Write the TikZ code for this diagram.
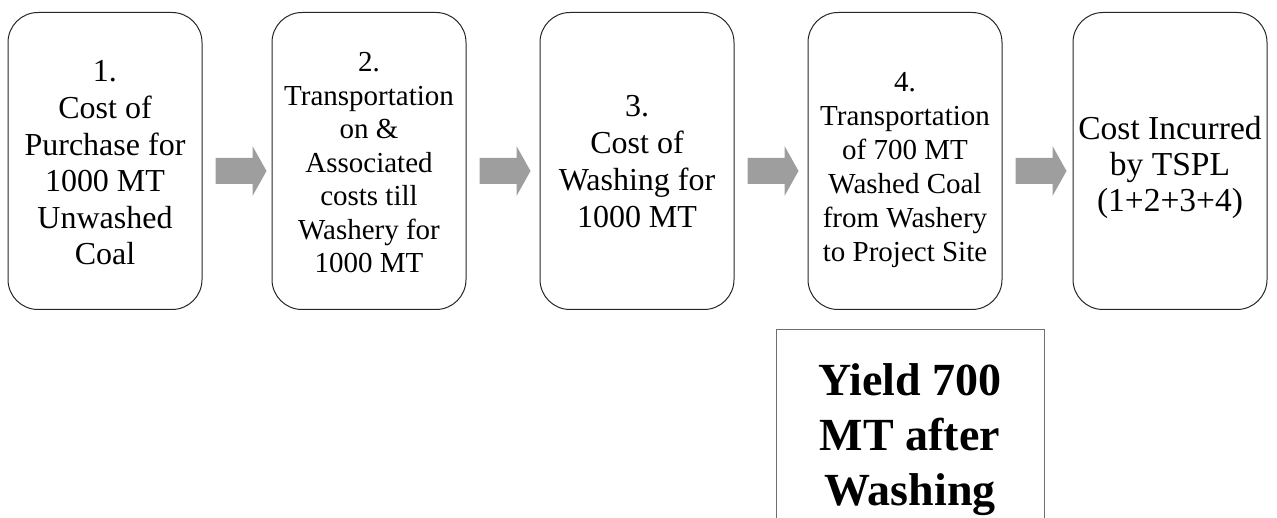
\documentclass[tikz,border=0pt]{standalone}
\usepackage{fontspec}
\setmainfont{Liberation Serif}
\usepackage{xcolor}
\usetikzlibrary{shapes,arrows,positioning,calc}
\definecolor{arrowgray}{RGB}{158,158,158}
\definecolor{framegray}{RGB}{110,110,110}

\begin{document}
\begin{tikzpicture}[x=1pt,y=1pt,
	costbox/.style={draw=black!85, line width=1pt, rounded corners=30pt,
		minimum width=194pt, minimum height=297pt, inner sep=0pt},
	steptext/.style={align=center, inner sep=0pt},
	yieldbox/.style={draw=framegray, line width=1pt, minimum width=268pt,
		minimum height=220pt, align=center, inner sep=0pt}]
				\useasboundingbox (0,0) rectangle (1277,517);
				
				% Draw the five cost steps
				\node[costbox] (s1) at (105,356) {};
				\node[costbox] (s2) at (369,356) {};
				\node[costbox] (s3) at (637,356) {};
				\node[costbox] (s4) at (905,356) {};
				\node[costbox] (s5) at (1170,356) {};
				
				% Step texts
				\node[steptext, font=\fontsize{32}{36.6}\selectfont, yshift=-2pt] (t1) at (s1) {1.\\Cost of\\Purchase for\\1000 MT\\Unwashed\\Coal};
				\node[steptext, font=\fontsize{29}{33.5}\selectfont, yshift=-2pt] (t2) at (s2) {2.\\Transportation\\on \&\\Associated\\costs till\\Washery for\\1000 MT};
				\node[steptext, font=\fontsize{32}{37}\selectfont, yshift=-1pt] (t3) at (s3) {3.\\Cost of\\Washing for\\1000 MT};
				\node[steptext, font=\fontsize{29}{34}\selectfont, yshift=-9pt] (t4) at (s4) {4.\\Transportation\\of 700 MT\\Washed Coal\\from Washery\\to Project Site};
				\node[steptext, font=\fontsize{33.5}{36}\selectfont, yshift=-6pt] (t5) at (s5) {Cost Incurred\\by TSPL\\(1+2+3+4)};
				
				% Draw block arrows between the steps
				\foreach \i/\j in {1/2,2/3,3/4,4/5}
					\fill[arrowgray] ($(s\i.east)+(13,3)$) -- ++(37,0) -- ++(0,12) -- ++(14,-25)
						-- ++(-14,-25) -- ++(0,12) -- ++(-37,0) -- cycle;
				
				% Add yield note below step 4
				\node[yieldbox, font=\fontsize{46}{55}\selectfont\bfseries] (yield) at (910,77) {Yield 700\\MT after\\Washing};
			\end{tikzpicture}
\end{document}
